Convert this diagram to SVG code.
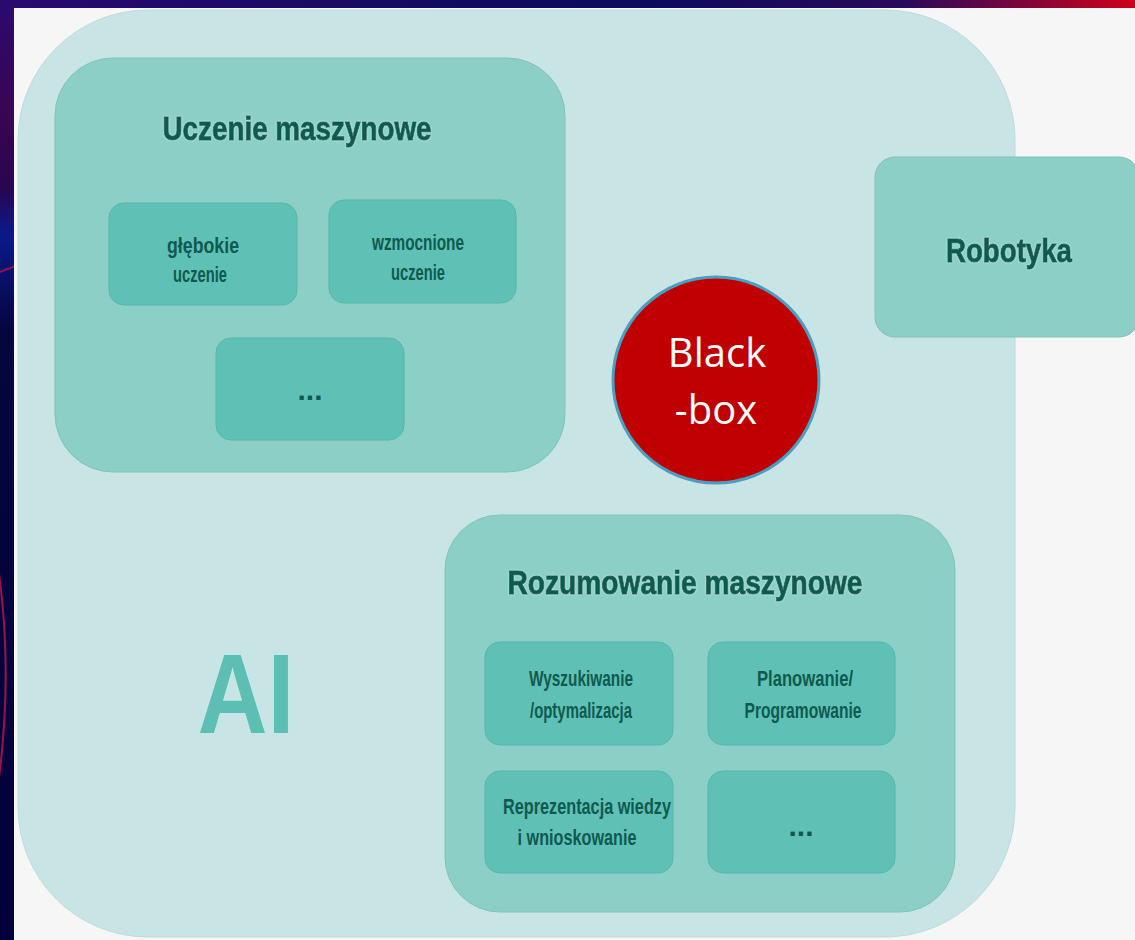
<svg xmlns="http://www.w3.org/2000/svg" width="1135" height="940" viewBox="0 0 1135 940">
<defs>
<linearGradient id="topband" x1="0" y1="0" x2="1" y2="0">
<stop offset="0" stop-color="#2a0a6e"/>
<stop offset="0.55" stop-color="#0a0a5e"/>
<stop offset="0.8" stop-color="#2a0a5a"/>
<stop offset="1" stop-color="#d0001a"/>
</linearGradient>
<linearGradient id="leftband" x1="0" y1="0" x2="0" y2="1">
<stop offset="0" stop-color="#2a0a70"/>
<stop offset="0.12" stop-color="#3a0552"/>
<stop offset="0.2" stop-color="#2a0550"/>
<stop offset="0.25" stop-color="#0a1a8a"/>
<stop offset="0.35" stop-color="#060540"/>
<stop offset="1" stop-color="#03003a"/>
</linearGradient>
<clipPath id="leftclip"><rect x="0" y="0" width="14" height="940"/></clipPath>
<filter id="ts" x="-10%" y="-20%" width="120%" height="140%">
<feGaussianBlur in="SourceAlpha" stdDeviation="1.2" result="b"/>
<feFlood flood-color="#b8f0e8" result="c"/>
<feComposite in="c" in2="b" operator="in" result="g"/>
<feMerge><feMergeNode in="g"/><feMergeNode in="SourceGraphic"/></feMerge>
</filter>
</defs>
<style>
.group{fill:#8ccfc6;stroke:#7fc3ba;stroke-width:1}
.sub{fill:#5fc1b5;stroke:#57b6aa;stroke-width:1}
.title{font-family:"Liberation Sans",Arial,sans-serif;font-weight:bold;fill:#0f5a50;stroke:#0f5a50;stroke-width:0.9;text-anchor:middle}
.small{font-family:"Liberation Sans",Arial,sans-serif;font-weight:bold;fill:#0f5a50;text-anchor:middle;font-size:22px}
.dots{font-family:"Liberation Sans",Arial,sans-serif;font-weight:bold;fill:#0f5a50;text-anchor:middle;font-size:30px}
</style>
<rect width="1135" height="940" fill="#f6f6f6"/>
<rect x="0" y="0" width="1135" height="8" fill="url(#topband)"/>
<rect x="0" y="0" width="14" height="940" fill="url(#leftband)"/>
<g clip-path="url(#leftclip)" fill="none" stroke="#a0104a" stroke-width="2">
<path d="M -60 300 Q 0 270 20 265"/>
<path d="M -40 950 Q 40 700 -20 480"/>
<path d="M -80 900 Q 30 660 -60 420"/>
</g>
<g id="ai">
<rect x="18" y="10" width="997" height="927" rx="130" ry="130" fill="#c9e4e4" stroke="#bcdcdc" stroke-width="1"/>
<text x="246" y="733" font-family="Liberation Sans, Arial, sans-serif" font-size="113" font-weight="bold" fill="#5dbfb3" text-anchor="middle" textLength="97" lengthAdjust="spacingAndGlyphs" filter="url(#ts)">AI</text>
</g>
<g id="uczenie">
<rect class="group" x="55" y="58" width="510" height="414" rx="58"/>
<text class="title" x="297" y="140" font-size="34" textLength="269" lengthAdjust="spacingAndGlyphs" filter="url(#ts)">Uczenie maszynowe</text>
</g>
<g id="glebokie">
<rect class="sub" x="109" y="203" width="188" height="102" rx="15"/>
<text class="small" x="203" y="253" textLength="72" lengthAdjust="spacingAndGlyphs">głębokie</text>
<text class="small" x="200" y="282" textLength="54" lengthAdjust="spacingAndGlyphs">uczenie</text>
</g>
<g id="wzmocnione">
<rect class="sub" x="329" y="200" width="187" height="103" rx="15"/>
<text class="small" x="418" y="250" textLength="92" lengthAdjust="spacingAndGlyphs">wzmocnione</text>
<text class="small" x="418" y="280" textLength="54" lengthAdjust="spacingAndGlyphs">uczenie</text>
</g>
<g id="uczenie-more">
<rect class="sub" x="216" y="338" width="188" height="102" rx="15"/>
<text class="dots" x="310" y="400">...</text>
</g>
<g id="robotyka">
<rect class="group" x="875" y="157" width="264" height="180" rx="20"/>
<text class="title" x="1009" y="262" font-size="34" textLength="126" lengthAdjust="spacingAndGlyphs" filter="url(#ts)">Robotyka</text>
</g>
<g id="blackbox">
<circle cx="716" cy="380" r="103" fill="#c00000" stroke="#4a9ec0" stroke-width="3"/>
<text x="717" y="367" font-family="Open Sans, Liberation Sans, sans-serif" font-size="40" fill="#ffffff" text-anchor="middle">Black</text>
<text x="716" y="424" font-family="Open Sans, Liberation Sans, sans-serif" font-size="40" fill="#ffffff" text-anchor="middle">-box</text>
</g>
<g id="rozumowanie">
<rect class="group" x="445" y="515" width="510" height="397" rx="55"/>
<text class="title" x="685" y="594" font-size="34" textLength="355" lengthAdjust="spacingAndGlyphs" filter="url(#ts)">Rozumowanie maszynowe</text>
</g>
<g id="wyszukiwanie">
<rect class="sub" x="485" y="642" width="188" height="103" rx="15"/>
<text class="small" x="581" y="686" textLength="104" lengthAdjust="spacingAndGlyphs">Wyszukiwanie</text>
<text class="small" x="581" y="718" textLength="102" lengthAdjust="spacingAndGlyphs">/optymalizacja</text>
</g>
<g id="planowanie">
<rect class="sub" x="708" y="642" width="187" height="103" rx="15"/>
<text class="small" x="805" y="686" textLength="96" lengthAdjust="spacingAndGlyphs">Planowanie/</text>
<text class="small" x="803" y="718" textLength="117" lengthAdjust="spacingAndGlyphs">Programowanie</text>
</g>
<g id="reprezentacja">
<rect class="sub" x="485" y="771" width="188" height="102" rx="15"/>
<text class="small" x="587" y="814" textLength="168" lengthAdjust="spacingAndGlyphs">Reprezentacja wiedzy</text>
<text class="small" x="577" y="845" textLength="119" lengthAdjust="spacingAndGlyphs">i wnioskowanie</text>
</g>
<g id="rozumowanie-more">
<rect class="sub" x="708" y="771" width="187" height="102" rx="15"/>
<text class="dots" x="801" y="836">...</text>
</g>
<g id="connectors"/>
</svg>
